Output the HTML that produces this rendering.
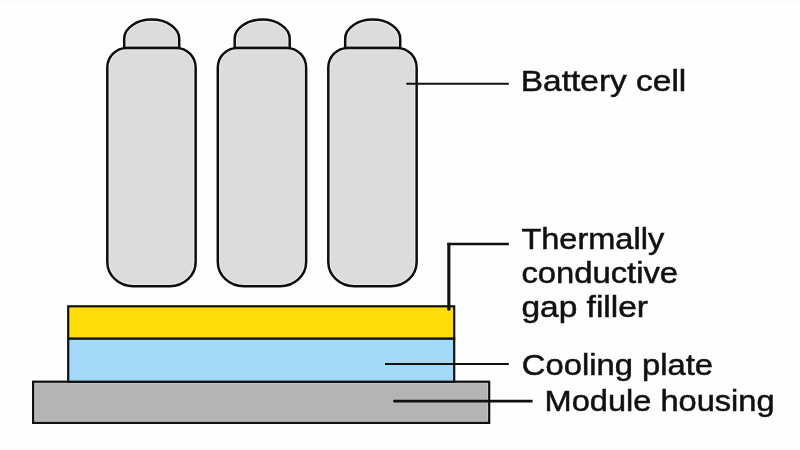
<!DOCTYPE html>
<html>
<head>
<meta charset="utf-8">
<title>Battery module diagram</title>
<style>
  html, body { margin: 0; padding: 0; background: #ffffff; }
  body { width: 800px; height: 450px; overflow: hidden; font-family: "Liberation Sans", sans-serif; }
  svg { display: block; will-change: transform; }
  text { font-family: "Liberation Sans", sans-serif; font-size: 29.5px; fill: #111111; stroke: #111111; stroke-width: 0.5px; }
</style>
</head>
<body>
<svg width="800" height="450" viewBox="0 0 800 450">
  <rect x="0" y="0" width="800" height="450" fill="#fefefe"/>
  <rect x="0" y="0" width="800" height="1" fill="#fafafa"/>
  <rect x="0" y="449" width="800" height="1" fill="#fafafa"/>

  <!-- battery cells -->
  <defs>
    <clipPath id="cb"><path d="M126.8 47.9 H176.15 A19.5 19.5 0 0 1 195.65 67.4 V262 A26 24.2 0 0 1 169.65 286.2 H133.3 A26 24.2 0 0 1 107.3 262 V67.4 A19.5 19.5 0 0 1 126.8 47.9 Z"/></clipPath>
    <clipPath id="cc"><path d="M124.2 47.9 V38.6 A27.5 19 0 0 1 179.2 38.6 V47.9 Z"/></clipPath>
    <clipPath id="ch"><rect x="33.1" y="381.7" width="456.1" height="41.2"/></clipPath>
  </defs>
  <g stroke-linejoin="round">
    <g id="cell">
      <path d="M124.2 47.9 V38.6 A27.5 19 0 0 1 179.2 38.6 V47.9 Z" fill="#dcdcdc" stroke="none"/>
      <path d="M124.2 47.9 V38.6 A27.5 19 0 0 1 179.2 38.6 V47.9 Z" fill="none" stroke="#ececec" stroke-width="4.6" clip-path="url(#cc)"/>
      <path d="M124.2 47.9 V38.6 A27.5 19 0 0 1 179.2 38.6 V47.9 Z" fill="none" stroke="#0e0e0e" stroke-width="2.5"/>
      <path d="M126.8 47.9 H176.15 A19.5 19.5 0 0 1 195.65 67.4 V262 A26 24.2 0 0 1 169.65 286.2 H133.3 A26 24.2 0 0 1 107.3 262 V67.4 A19.5 19.5 0 0 1 126.8 47.9 Z" fill="#dcdcdc" stroke="none"/>
      <path d="M126.8 47.9 H176.15 A19.5 19.5 0 0 1 195.65 67.4 V262 A26 24.2 0 0 1 169.65 286.2 H133.3 A26 24.2 0 0 1 107.3 262 V67.4 A19.5 19.5 0 0 1 126.8 47.9 Z" fill="none" stroke="#ececec" stroke-width="4.6" clip-path="url(#cb)"/>
      <path d="M126.8 47.9 H176.15 A19.5 19.5 0 0 1 195.65 67.4 V262 A26 24.2 0 0 1 169.65 286.2 H133.3 A26 24.2 0 0 1 107.3 262 V67.4 A19.5 19.5 0 0 1 126.8 47.9 Z" fill="none" stroke="#0e0e0e" stroke-width="2.5"/>
    </g>
    <use href="#cell" x="110.5"/>
    <use href="#cell" x="221"/>
  </g>

  <!-- housing -->
  <rect x="33.1" y="381.7" width="456.1" height="41.2" fill="#b4b4b4" stroke="none"/>
  <rect x="33.1" y="381.7" width="456.1" height="41.2" fill="none" stroke="#c4c4c4" stroke-width="4.2" clip-path="url(#ch)"/>
  <rect x="33.1" y="381.7" width="456.1" height="41.2" fill="none" stroke="#111111" stroke-width="2.2"/>
  <!-- cooling plate -->
  <rect x="68.2" y="338.5" width="386.0" height="43.2" fill="#a2daf7" stroke="#111111" stroke-width="2.2"/>
  <!-- gap filler -->
  <rect x="68.2" y="306.3" width="386.0" height="32.2" fill="#fedd0a" stroke="#111111" stroke-width="2.2"/>

  <!-- leader lines -->
  <g stroke="#111111" fill="none">
    <path d="M407.1 83.7 H508.8" stroke-width="2" stroke-linecap="butt"/>
    <circle cx="407.1" cy="83.7" r="1" fill="#111111" stroke="none"/>
    <path d="M447.3 244 H508.8" stroke-width="2.3"/>
    <path d="M448.85 242.85 V309.3" stroke-width="3.1"/>
    <circle cx="448.85" cy="309.3" r="1.55" fill="#111111" stroke="none"/>
    <path d="M385 364 H508.8" stroke-width="1.8"/>
    <path d="M394.4 401.1 H532.6" stroke-width="2.8"/>
    <circle cx="394.4" cy="401.1" r="1.4" fill="#111111" stroke="none"/>
  </g>

  <!-- labels -->
  <g>
  <text x="520.8" y="90.8" textLength="165.5" lengthAdjust="spacingAndGlyphs">Battery cell</text>
  <text x="521.4" y="248.9" textLength="142.8" lengthAdjust="spacingAndGlyphs">Thermally</text>
  <text x="521.4" y="283.1" textLength="156.7" lengthAdjust="spacingAndGlyphs">conductive</text>
  <text x="521.4" y="317" textLength="126.6" lengthAdjust="spacingAndGlyphs">gap filler</text>
  <text x="521.8" y="374.9" textLength="191.2" lengthAdjust="spacingAndGlyphs">Cooling plate</text>
  <text x="544.6" y="410.5" textLength="230" lengthAdjust="spacingAndGlyphs">Module housing</text>
  </g>
</svg>
</body>
</html>
